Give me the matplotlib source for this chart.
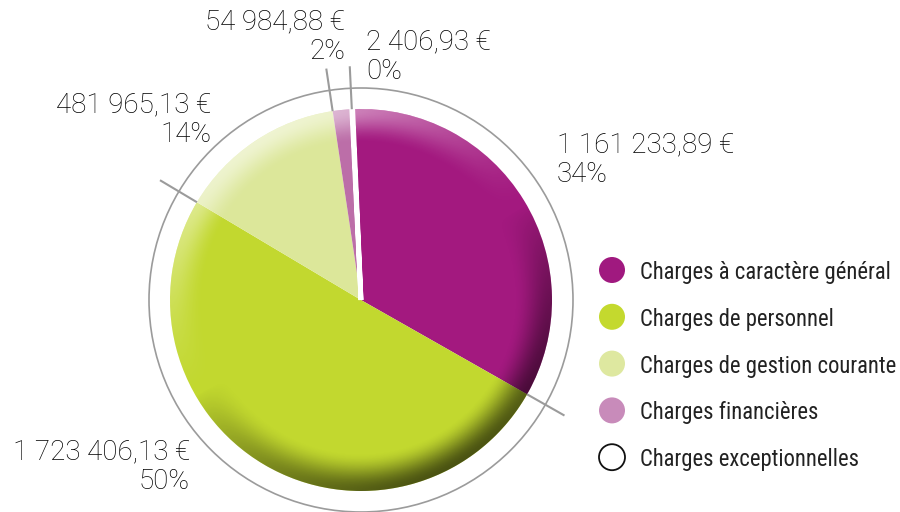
import numpy as np
import matplotlib
matplotlib.use("Agg")
import matplotlib.pyplot as plt
from matplotlib.patches import Circle
from matplotlib import font_manager

categories = ["Charges à caractère général", "Charges de personnel",
              "Charges de gestion courante", "Charges financières",
              "Charges exceptionnelles"]
values = [1161233.89, 1723406.13, 481965.13, 54984.88, 2406.93]

pie_colors = ["#A3197F", "#C2D82F", "#DCE79A", "#BC6EA8", "#FFFFFF"]
legend_colors = ["#A0197F", "#C4D92E", "#DEE8A0", "#C88BBA", "#FFFFFF"]

W, H = 900, 512
fig = plt.figure(figsize=(W / 100, H / 100), dpi=100)
ax = fig.add_axes([0, 0, 1, 1])

names = {f.name for f in font_manager.fontManager.ttflist}
legend_family = [f for f in ["Liberation Sans Narrow", "Roboto Condensed", "Open Sans Condensed"] if f in names] or ["DejaVu Sans"]
label_family = "Roboto" if "Roboto" in names else "DejaVu Sans"

cx, cy, R = 361, H - 300, 191
start = 92.5
wedges, _ = ax.pie(values, colors=pie_colors, startangle=start, counterclock=False,
                   center=(cx, cy), radius=R, frame=True,
                   wedgeprops=dict(linewidth=0))
ax.set_xlim(0, W)
ax.set_ylim(0, H)
ax.set_aspect("equal")
ax.axis("off")
wedges[-1].set_edgecolor("white")
wedges[-1].set_linewidth(3.5)
wedges[-1].set_zorder(3)

# shading overlay (light from upper-left, shadow lower-right)
n = 500
xs = np.linspace(-1, 1, n)
X, Y = np.meshgrid(xs, xs[::-1])
rr = np.sqrt(X ** 2 + Y ** 2)
th = np.arctan2(Y, X)
def smooth(a, b, v):
    t = np.clip((v - a) / (b - a), 0, 1)
    return t * t * (3 - 2 * t)
light_dir = np.deg2rad(120)
c = np.cos(th - light_dir)
shadow = np.clip(-c, 0, 1) ** 0.8 * smooth(0.80, 1.0, rr)
high = np.clip(c, 0, 1) ** 1.5 * smooth(0.82, 1.0, rr)
rgba = np.zeros((n, n, 4))
alpha_s = 0.62 * shadow
alpha_h = 0.55 * high
rgba[..., :3] = np.where((alpha_h > alpha_s)[..., None], 1.0, 0.0)
rgba[..., 3] = np.maximum(alpha_s, alpha_h)
clip = Circle((cx, cy), R, transform=ax.transData)
im = ax.imshow(rgba, extent=(cx - R, cx + R, cy - R, cy + R), zorder=2,
               interpolation="bilinear")
im.set_clip_path(clip)
ax.set_xlim(0, W)
ax.set_ylim(0, H)

# outer ring
ax.add_patch(Circle((cx, cy), 212, fill=False, edgecolor="#9B9B9B", linewidth=1.2, zorder=4))

# leader lines at slice boundaries
total = sum(values)
cum = start
for v in values[:-1]:
    cum -= v / total * 360
    a = np.deg2rad(cum)
    ax.plot([cx + 191 * np.cos(a), cx + 234 * np.cos(a)],
            [cy + 191 * np.sin(a), cy + 234 * np.sin(a)],
            color="#9B9B9B", linewidth=1.5, zorder=4, solid_capstyle="butt")

def fr(v):
    return f"{v:,.2f}".replace(",", " ").replace(".", ",") + " €"

# label anchors (x, baseline y in image px, ha)
anchors = [(557, 152, "left"), (190, 459, "right"), (211, 112, "right"),
           (345, 29, "right"), (366, 49, "left")]
line_gap = 30
for v, (x, yb, ha) in zip(values, anchors):
    pct = f"{round(v / total * 100)}%"
    for i, s in enumerate([fr(v), pct]):
        ax.text(x, H - (yb + i * line_gap), s, ha=ha, va="baseline",
                fontsize=20, family=label_family, fontweight="light",
                color="#000000", zorder=5)

# legend
renderer = fig.canvas.get_renderer()
probe = ax.text(0, 0, categories[2], fontsize=17.5, family=legend_family)
wpx = probe.get_window_extent(renderer).width
probe.remove()
lfs = 17.5 * 256 / wpx

ly0, lgap = 270, 46.8
for i, (cat, col) in enumerate(zip(categories, legend_colors)):
    y = H - (ly0 + i * lgap)
    ax.add_patch(Circle((612, y), 13, facecolor=col,
                        edgecolor="#111111" if col == "#FFFFFF" else col,
                        linewidth=1.3 if col == "#FFFFFF" else 0, zorder=5))
    ax.text(640, y - 9, cat, ha="left", va="baseline", fontsize=lfs,
            family=legend_family, color="#222222", zorder=5)

fig.savefig("out.png", dpi=100)
